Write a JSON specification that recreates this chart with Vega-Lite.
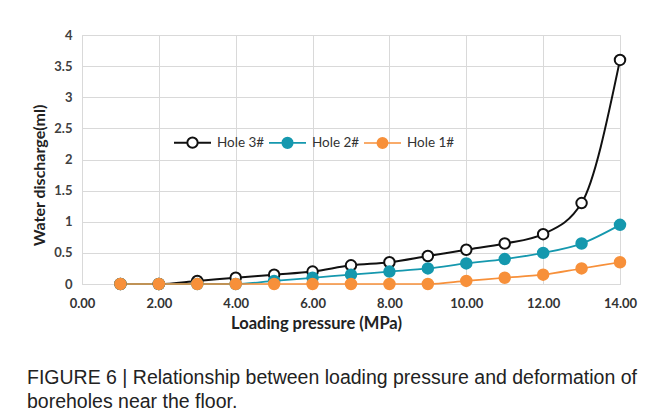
{
  "$schema": "https://vega.github.io/schema/vega-lite/v6.json",
  "width": 538,
  "height": 249,
  "autosize": {"type": "none"},
  "padding": {"left": 82, "top": 35, "right": 35, "bottom": 134},
  "background": "white",
  "title": {
    "text": ["FIGURE 6 | Relationship between loading pressure and deformation of", "boreholes near the floor."],
    "orient": "bottom",
    "anchor": "start",
    "frame": "group",
    "dx": -55,
    "offset": 37,
    "font": "Liberation Sans",
    "fontSize": 19.5,
    "fontWeight": "normal",
    "color": "#222222",
    "lineHeight": 24
  },
  "data": {
    "values": [
      {"p": 1, "v": 0, "s": "Hole 3#"},
      {"p": 2, "v": 0, "s": "Hole 3#"},
      {"p": 3, "v": 0.05, "s": "Hole 3#"},
      {"p": 4, "v": 0.1, "s": "Hole 3#"},
      {"p": 5, "v": 0.15, "s": "Hole 3#"},
      {"p": 6, "v": 0.2, "s": "Hole 3#"},
      {"p": 7, "v": 0.3, "s": "Hole 3#"},
      {"p": 8, "v": 0.35, "s": "Hole 3#"},
      {"p": 9, "v": 0.45, "s": "Hole 3#"},
      {"p": 10, "v": 0.55, "s": "Hole 3#"},
      {"p": 11, "v": 0.65, "s": "Hole 3#"},
      {"p": 12, "v": 0.8, "s": "Hole 3#"},
      {"p": 13, "v": 1.3, "s": "Hole 3#"},
      {"p": 14, "v": 3.6, "s": "Hole 3#"},
      {"p": 1, "v": 0, "s": "Hole 2#"},
      {"p": 2, "v": 0, "s": "Hole 2#"},
      {"p": 3, "v": 0, "s": "Hole 2#"},
      {"p": 4, "v": 0, "s": "Hole 2#"},
      {"p": 5, "v": 0.05, "s": "Hole 2#"},
      {"p": 6, "v": 0.1, "s": "Hole 2#"},
      {"p": 7, "v": 0.15, "s": "Hole 2#"},
      {"p": 8, "v": 0.2, "s": "Hole 2#"},
      {"p": 9, "v": 0.25, "s": "Hole 2#"},
      {"p": 10, "v": 0.33, "s": "Hole 2#"},
      {"p": 11, "v": 0.4, "s": "Hole 2#"},
      {"p": 12, "v": 0.5, "s": "Hole 2#"},
      {"p": 13, "v": 0.65, "s": "Hole 2#"},
      {"p": 14, "v": 0.95, "s": "Hole 2#"},
      {"p": 1, "v": 0, "s": "Hole 1#"},
      {"p": 2, "v": 0, "s": "Hole 1#"},
      {"p": 3, "v": 0, "s": "Hole 1#"},
      {"p": 4, "v": 0, "s": "Hole 1#"},
      {"p": 5, "v": 0, "s": "Hole 1#"},
      {"p": 6, "v": 0, "s": "Hole 1#"},
      {"p": 7, "v": 0, "s": "Hole 1#"},
      {"p": 8, "v": 0, "s": "Hole 1#"},
      {"p": 9, "v": 0, "s": "Hole 1#"},
      {"p": 10, "v": 0.05, "s": "Hole 1#"},
      {"p": 11, "v": 0.1, "s": "Hole 1#"},
      {"p": 12, "v": 0.15, "s": "Hole 1#"},
      {"p": 13, "v": 0.25, "s": "Hole 1#"},
      {"p": 14, "v": 0.35, "s": "Hole 1#"}
    ]
  },
  "encoding": {
    "x": {
      "field": "p",
      "type": "quantitative",
      "scale": {"domain": [0, 14], "nice": false},
      "axis": {
        "values": [0, 2, 4, 6, 8, 10, 12, 14],
        "format": ".2f",
        "title": "Loading pressure (MPa)",
        "titleX": 234,
        "titlePadding": 5,
        "labelPadding": 13,
        "labelFlush": false,
        "ticks": false,
        "domainColor": "#d9d9d9",
        "gridColor": "#d9d9d9",
        "labelFont": "Lato",
        "labelFontSize": 13,
        "labelFontWeight": "bold",
        "labelColor": "#333333",
        "titleFont": "Lato",
        "titleFontSize": 16.5,
        "titleFontWeight": "bold",
        "titleColor": "#222222"
      }
    },
    "y": {
      "field": "v",
      "type": "quantitative",
      "scale": {"domain": [0, 4], "nice": false},
      "axis": {
        "values": [0, 0.5, 1, 1.5, 2, 2.5, 3, 3.5, 4],
        "format": "~g",
        "title": "Water discharge(ml)",
        "titleY": 140,
        "titlePadding": 6,
        "labelPadding": 10,
        "ticks": false,
        "domain": false,
        "gridColor": "#d9d9d9",
        "labelFont": "Lato",
        "labelFontSize": 13,
        "labelFontWeight": "bold",
        "labelColor": "#404040",
        "titleFont": "Lato",
        "titleFontSize": 16,
        "titleFontWeight": "bold",
        "titleColor": "#222222"
      }
    },
    "stroke": {
      "field": "s",
      "type": "nominal",
      "scale": {"domain": ["Hole 3#", "Hole 2#", "Hole 1#"], "range": ["#111111", "#1598ae", "#f7903a"]},
      "legend": {
        "orient": "none",
        "direction": "horizontal",
        "legendX": 91,
        "legendY": 88,
        "title": null,
        "symbolType": "M-1,0L-0.28,0M0.28,0L1,0M-0.28,0A0.28,0.28,0,1,0,0.28,0A0.28,0.28,0,1,0,-0.28,0Z",
        "symbolSize": 1369,
        "symbolStrokeWidth": 2,
        "labelFont": "Lato",
        "labelFontSize": 13.5,
        "labelColor": "#333333",
        "labelOffset": 5,
        "columnPadding": 0
      }
    }
  },
  "layer": [
    {
      "mark": {"type": "line", "interpolate": "monotone"},
      "encoding": {
        "strokeWidth": {
          "field": "s",
          "type": "nominal",
          "scale": {"domain": ["Hole 3#", "Hole 2#", "Hole 1#"], "range": [2, 1.6, 1.1]},
          "legend": null
        }
      }
    },
    {
      "mark": {"type": "point", "shape": "circle", "size": 110, "strokeWidth": 2, "opacity": 1},
      "encoding": {
        "order": {"field": "s", "sort": "descending"},
        "fill": {
          "field": "s",
          "type": "nominal",
          "scale": {"domain": ["Hole 3#", "Hole 2#", "Hole 1#"], "range": ["#ffffff", "#1598ae", "#f7903a"]},
          "legend": {
            "orient": "none",
            "direction": "horizontal",
            "legendX": 91,
            "legendY": 88,
            "title": null,
            "symbolType": "M-1,0L-0.28,0M0.28,0L1,0M-0.28,0A0.28,0.28,0,1,0,0.28,0A0.28,0.28,0,1,0,-0.28,0Z",
            "symbolSize": 1369,
            "symbolStrokeWidth": 2,
            "labelFont": "Lato",
            "labelFontSize": 13.5,
            "labelColor": "#333333",
            "labelOffset": 5,
            "columnPadding": 0
          }
        }
      }
    }
  ],
  "config": {
    "view": {"stroke": "#d9d9d9"}
  }
}
